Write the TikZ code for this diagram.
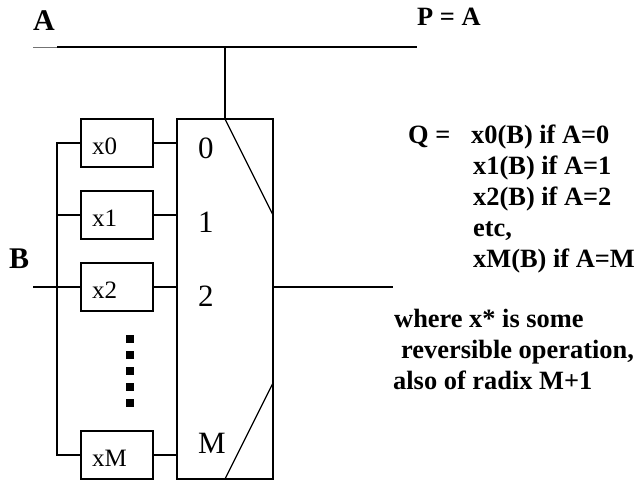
\documentclass[tikz,border=0pt]{standalone}
\usepackage{fontspec}
\setmainfont{Liberation Serif}
\tikzset{
  wire/.style={line width=1.3pt,black},
  opbox/.style={draw,line width=1.3pt,minimum width=72pt,minimum height=48pt,inner sep=0pt,outer sep=0pt},
  muxbox/.style={draw,line width=1.3pt,minimum width=96pt,minimum height=360pt,inner sep=0pt,outer sep=0pt},
  oplabel/.style={font=\fontsize{25}{25}\selectfont,anchor=base west,inner sep=0pt},
  portlabel/.style={font=\fontsize{31}{31}\selectfont,anchor=base west,inner sep=0pt},
  bold/.style={font=\bfseries\fontsize{26.4}{26.4}\selectfont,anchor=base west,inner sep=0pt},
  big/.style={font=\bfseries\fontsize{30}{30}\selectfont,anchor=base west,inner sep=0pt},
  dotsq/.style={fill=black,minimum size=8pt,inner sep=0pt,outer sep=0pt}
}
\begin{document}
\begin{tikzpicture}[x=1pt,y=-1pt]
\useasboundingbox (0,0) rectangle (636,480);
\node[opbox] (x0) at (117,143) {};
\node[opbox] (x1) at (117,215) {};
\node[opbox] (x2) at (117,287) {};
\node[opbox] (xM) at (117,455) {};
\node[muxbox] (mux) at (225,299) {};
\coordinate (busL) at (57,47);
\coordinate (busLL) at (33,47);
\coordinate (busR) at (417,47);
\coordinate (tap) at (225,47);
\coordinate (muxT) at (225,119);
\coordinate (muxB) at (225,479);
\coordinate (diagT) at (273,215);
\coordinate (diagB) at (273,383);
\coordinate (bIn) at (33,287);
\coordinate (bJ) at (57,287);
\coordinate (out) at (393,287);
\draw[line width=0.6pt,black!55] (busLL) -- (busL);
\draw[wire] (busL) -- (busR);
\draw[wire] (tap) -- (muxT);
\draw[wire] (muxT) -- (diagT);
\draw[wire] (muxB) -- (diagB);
\draw[wire] (bIn) -- (x2.west);
\draw[wire] (x0.west) -| (bJ);
\draw[wire] (x1.west) -- (bJ |- x1.west);
\draw[wire] (xM.west) -| (bJ);
\foreach \n in {x0,x1,x2,xM} \draw[wire] (\n.east) -- (\n.east -| mux.west);
\draw[wire] (mux.east |- x2) -- (out);
\foreach \i/\y in {1/339,2/355,3/371,4/387,5/403} \node[dotsq] (d\i) at (129.5,\y) {};
\node[oplabel] (l0) at (92,154) {x0};
\node[oplabel] (l1) at (92,226) {x1};
\node[oplabel] (l2) at (92,298) {x2};
\node[oplabel] (lM) at (92,466) {xM};
\node[portlabel] (p0) at (198,158) {0};
\node[portlabel] (p1) at (198,232) {1};
\node[portlabel] (p2) at (198,306) {2};
\node[portlabel] (pM) at (198,453) {M};
\node[big] (A) at (33,30) {A};
\node[big] (B) at (9,268) {B};
\node[bold] (P) at (417,25) {P = A};
\node[bold] (Q) at (408,143) {Q =};
\node[bold] (q0) at (471,143) {x0(B) if A=0};
\node[bold] (q1) at (473,174) {x1(B) if A=1};
\node[bold] (q2) at (473,205) {x2(B) if A=2};
\node[bold] (q3) at (473,236) {etc,};
\node[bold] (q4) at (473,267) {xM(B) if A=M};
\node[bold] (w1) at (394,327) {where x* is some};
\node[bold] (w2) at (401,358) {reversible operation,};
\node[bold] (w3) at (393,389) {also of radix M+1};
\end{tikzpicture}
\end{document}
